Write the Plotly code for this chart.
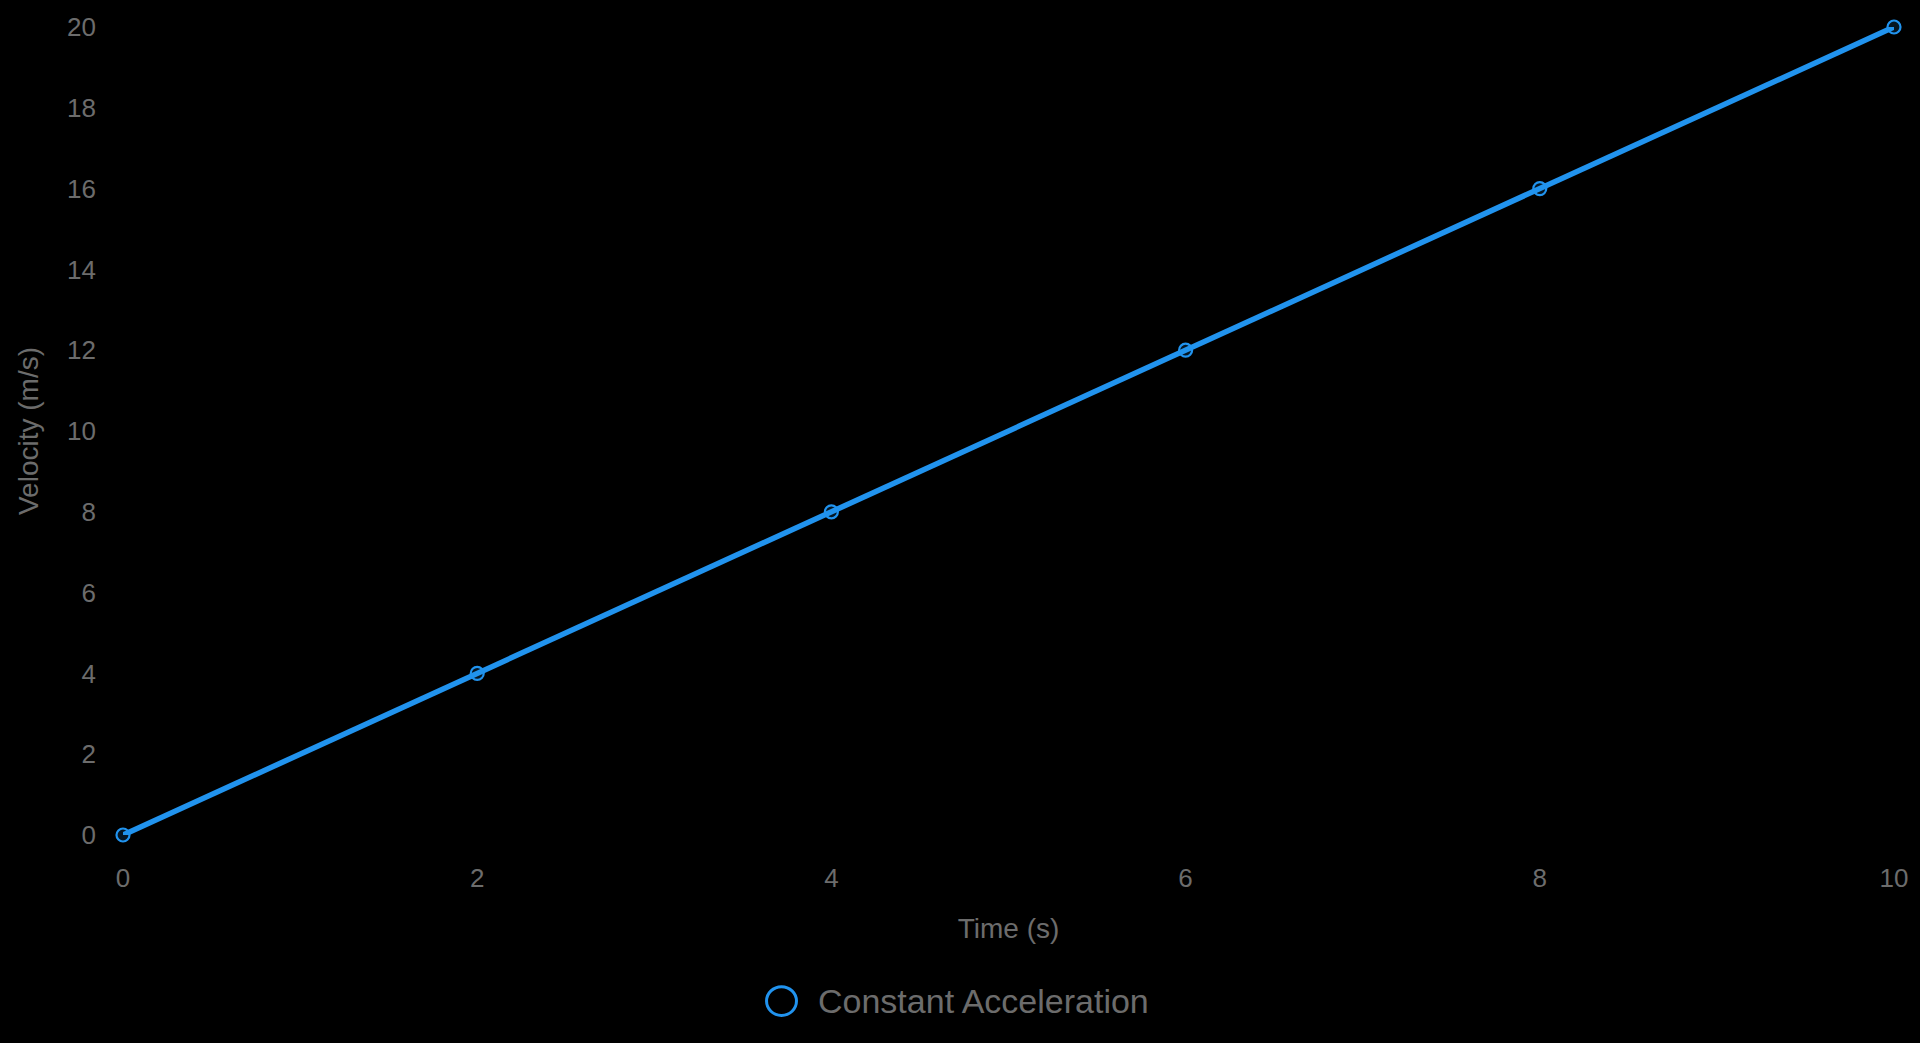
import plotly.graph_objects as go

time_s = [0, 2, 4, 6, 8, 10]
velocity = [0, 4, 8, 12, 16, 20]
series_name = "Constant Acceleration"
x_title = "Time (s)"
y_title = "Velocity (m/s)"

BLUE = "#2193EE"
TEXT = "#6c6c6c"
FONT = "Liberation Sans, Arial, sans-serif"

fig = go.Figure()
fig.add_trace(go.Scatter(
    x=time_s, y=velocity, mode="lines+markers", name=series_name,
    line=dict(color=BLUE, width=5.5),
    marker=dict(symbol="circle", size=13, color="rgba(33,147,238,0.15)",
                line=dict(color=BLUE, width=2.2)),
    cliponaxis=False, showlegend=False,
))

L, R, T, B = 123, 22, 20, 208
PW, PH = 1920 - L - R, 1043 - T - B
y0px = 1043 - B

fig.update_layout(
    width=1920, height=1043,
    paper_bgcolor="black", plot_bgcolor="black",
    margin=dict(l=L, r=R, t=T, b=B),
    font=dict(family=FONT, color=TEXT, size=26),
    xaxis=dict(range=[0, 10], dtick=2, showgrid=False, zeroline=False,
               showline=False, ticks="", ticklabelstandoff=25,
               tickfont=dict(size=26, color=TEXT),
               title=dict(text=x_title, font=dict(size=28, color=TEXT), standoff=26)),
    yaxis=dict(range=[0, 20], dtick=2, showgrid=False, zeroline=False,
               showline=False, ticks="", ticklabelstandoff=26,
               tickfont=dict(size=26, color=TEXT),
               title=dict(text=y_title, font=dict(size=28, color=TEXT), standoff=20)),
    shapes=[dict(type="circle", xref="paper", yref="paper",
                 x0=(768 - L) / PW, x1=(798 - L) / PW,
                 y0=(y0px - 1017) / PH, y1=(y0px - 988) / PH,
                 line=dict(color=BLUE, width=3), fillcolor="rgba(0,0,0,0)")],
    annotations=[dict(text=series_name, xref="paper", yref="paper",
                      x=(818 - L) / PW, y=(y0px - 1002) / PH,
                      xanchor="left", yanchor="middle", showarrow=False,
                      font=dict(size=34, color=TEXT, family=FONT))],
)

fig.write_html(
    "out.html",
    config={"displayModeBar": False},
    post_script="document.body.style.margin='0';document.body.style.background='black';document.body.style.overflow='hidden';",
)
